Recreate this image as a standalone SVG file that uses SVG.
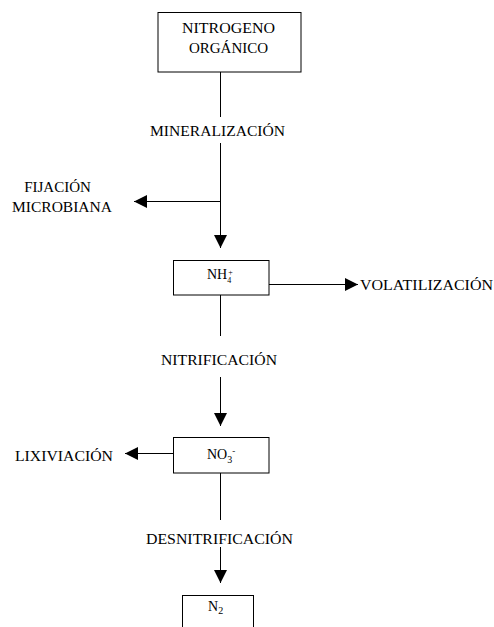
<svg xmlns="http://www.w3.org/2000/svg" width="494" height="627" viewBox="0 0 494 627">
<defs>
<style>
.c{text-anchor:middle}
.box{fill:#fff;stroke:#000;stroke-width:1}
.ln{stroke:#000;stroke-width:1;fill:none}
</style>
<marker id="ah" viewBox="0 0 10 10" refX="10" refY="5" markerWidth="14" markerHeight="13" markerUnits="userSpaceOnUse" orient="auto">
<path d="M0,0 L10,5 L0,10 Z" fill="#000"/>
</marker>
</defs>
<rect width="494" height="627" fill="#fff"/>
<g id="connectors">
<line class="ln" x1="220.5" y1="72" x2="220.5" y2="117"/>
<line class="ln" x1="220.5" y1="143" x2="220.5" y2="248" marker-end="url(#ah)"/>
<line class="ln" x1="220.5" y1="201.5" x2="134" y2="201.5" marker-end="url(#ah)"/>
<line class="ln" x1="269" y1="284.5" x2="358" y2="284.5" marker-end="url(#ah)"/>
<line class="ln" x1="220.5" y1="295" x2="220.5" y2="336"/>
<line class="ln" x1="220.5" y1="377" x2="220.5" y2="426" marker-end="url(#ah)"/>
<line class="ln" x1="173" y1="453.5" x2="125" y2="453.5" marker-end="url(#ah)"/>
<line class="ln" x1="220.5" y1="473" x2="220.5" y2="520"/>
<line class="ln" x1="220.5" y1="547" x2="220.5" y2="583" marker-end="url(#ah)"/>
</g>
<g id="labels">
<text class="c" x="217.5" y="136" font-family="Liberation Serif" font-size="15" textLength="135" lengthAdjust="spacingAndGlyphs">MINERALIZACIÓN</text>
<text class="c" x="57.5" y="192" font-family="Liberation Serif" font-size="15">FIJACIÓN</text>
<text class="c" x="62" y="212" font-family="Liberation Serif" font-size="15" textLength="100" lengthAdjust="spacingAndGlyphs">MICROBIANA</text>
<text x="360" y="290" font-family="Liberation Serif" font-size="15" textLength="133" lengthAdjust="spacingAndGlyphs">VOLATILIZACIÓN</text>
<text class="c" x="219" y="365" font-family="Liberation Serif" font-size="15" textLength="116" lengthAdjust="spacingAndGlyphs">NITRIFICACIÓN</text>
<text x="15" y="461" font-family="Liberation Serif" font-size="15" textLength="98" lengthAdjust="spacingAndGlyphs">LIXIVIACIÓN</text>
<text class="c" x="219.5" y="544" font-family="Liberation Serif" font-size="15" textLength="147" lengthAdjust="spacingAndGlyphs">DESNITRIFICACIÓN</text>
</g>
<g id="node-nitrogeno">
<rect class="box" x="158" y="12.5" width="143" height="59.5"/>
<text class="c" x="228.5" y="33" font-family="Liberation Serif" font-size="15" textLength="93" lengthAdjust="spacingAndGlyphs">NITROGENO</text>
<text class="c" x="228.5" y="53" font-family="Liberation Serif" font-size="15">ORGÁNICO</text>
</g>
<g id="node-nh4">
<rect class="box" x="173.5" y="260.5" width="95.5" height="34.5"/>
<text x="207" y="279" font-family="Liberation Serif" font-size="14">NH<tspan dy="4" font-size="8">4</tspan><tspan dx="-3" dy="-8" font-size="8">+</tspan></text>
</g>
<g id="node-no3">
<rect class="box" x="173.5" y="437.5" width="95.5" height="35.5"/>
<text x="207" y="459" font-family="Liberation Serif" font-size="14">NO<tspan dy="4" font-size="10">3</tspan><tspan dy="-9" font-size="9">-</tspan></text>
</g>
<g id="node-n2">
<rect class="box" x="182.5" y="595.5" width="71" height="40"/>
<text x="208" y="611" font-family="Liberation Serif" font-size="14">N<tspan dy="3" font-size="10">2</tspan></text>
</g>
</svg>
